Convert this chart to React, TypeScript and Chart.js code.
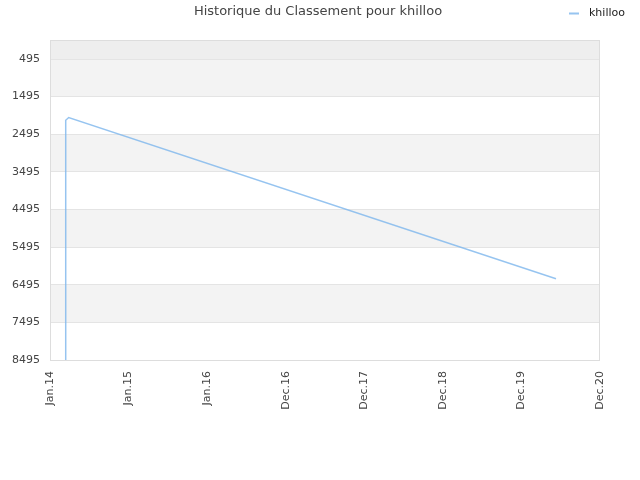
import React, { useEffect, useRef } from "react";
import { Chart, registerables } from "chart.js";

Chart.register(...registerables);

const title = "Historique du Classement pour khilloo";
const seriesName = "khilloo";
const xTickLabels = ["Jan.14", "Jan.15", "Jan.16", "Dec.16", "Dec.17", "Dec.18", "Dec.19", "Dec.20"];
const yTickValues = [495, 1495, 2495, 3495, 4495, 5495, 6495, 7495, 8495];
// x in years since Jan 2014, y = rank
const seriesX = [0.2, 0.2, 0.238, 6.44];
const seriesY = [8495, 2122, 2050, 6335];

const FONT = "'DejaVu Sans', sans-serif";

export default function App() {
  const ref = useRef<HTMLCanvasElement | null>(null);
  useEffect(() => {
    document.body.style.margin = "0";
    const canvas = ref.current;
    if (!canvas) return;

    const bandsPlugin = {
      id: "bands",
      beforeDraw(chart: any) {
        const { ctx, chartArea } = chart;
        const ys = chart.scales.y;
        ctx.save();
        ctx.fillStyle = "#ffffff";
        ctx.fillRect(0, 0, chart.width, chart.height);
        const first = ys.getPixelForValue(yTickValues[0]);
        ctx.fillStyle = "#eeeeee";
        ctx.fillRect(chartArea.left, chartArea.top, chartArea.right - chartArea.left, first - chartArea.top);
        for (let i = 0; i < yTickValues.length - 1; i++) {
          if (i % 2 === 0) {
            const a = ys.getPixelForValue(yTickValues[i]);
            const b = ys.getPixelForValue(yTickValues[i + 1]);
            ctx.fillStyle = "#f3f3f3";
            ctx.fillRect(chartArea.left, a, chartArea.right - chartArea.left, b - a);
          }
        }
        ctx.restore();
      },
      afterDraw(chart: any) {
        const { ctx, chartArea } = chart;
        ctx.save();
        ctx.strokeStyle = "#dddddd";
        ctx.lineWidth = 1;
        ctx.strokeRect(
          Math.round(chartArea.left) + 0.5,
          Math.round(chartArea.top) + 0.5,
          Math.round(chartArea.right - chartArea.left) - 1,
          Math.round(chartArea.bottom - chartArea.top)
        );
        ctx.fillStyle = "#444444";
        ctx.font = "13px " + FONT;
        ctx.textAlign = "center";
        ctx.textBaseline = "middle";
        ctx.fillText(title, 318, 12);
        ctx.strokeStyle = "rgba(124,181,236,0.8)";
        ctx.lineWidth = 2;
        ctx.beginPath();
        ctx.moveTo(569, 13.5);
        ctx.lineTo(579, 13.5);
        ctx.stroke();
        ctx.fillStyle = "#222222";
        ctx.font = "11px " + FONT;
        ctx.textAlign = "left";
        ctx.fillText(seriesName, 589, 13);
        ctx.restore();
      },
    };

    const chart = new Chart(canvas, {
      type: "line",
      data: {
        datasets: [
          {
            label: seriesName,
            data: seriesX.map((x, i) => ({ x, y: seriesY[i] })),
            borderColor: "rgba(124,181,236,0.8)",
            borderWidth: 1.5,
            pointRadius: 0,
            tension: 0,
            fill: false,
          },
        ],
      },
      options: {
        responsive: false,
        animation: false,
        layout: { padding: { top: 40, right: 40, left: 0, bottom: 0 } },
        plugins: {
          legend: { display: false },
          title: { display: false },
          tooltip: { enabled: false },
        },
        scales: {
          x: {
            type: "linear",
            min: 0,
            max: 7,
            afterBuildTicks: (s: any) => {
              s.ticks = xTickLabels.map((_, i) => ({ value: i }));
            },
            afterFit: (s: any) => {
              s.height = 120;
            },
            grid: { display: false, drawTicks: false },
            border: { display: false },
            ticks: {
              minRotation: 90,
              maxRotation: 90,
              autoSkip: false,
              padding: 11,
              color: "#444444",
              font: { family: FONT, size: 11 },
              callback: (v: any) => xTickLabels[Math.round(Number(v))] ?? "",
            },
          },
          y: {
            type: "linear",
            reverse: true,
            min: -10,
            max: 8495,
            afterBuildTicks: (s: any) => {
              s.ticks = yTickValues.map((v) => ({ value: v }));
            },
            afterFit: (s: any) => {
              s.width = 50;
            },
            grid: { color: "#e4e4e4", drawTicks: false },
            border: { display: false },
            ticks: {
              padding: 10,
              autoSkip: false,
              color: "#444444",
              font: { family: FONT, size: 11 },
              callback: (v: any) => String(v),
            },
          },
        },
      },
      plugins: [bandsPlugin],
    } as any);
    return () => chart.destroy();
  }, []);
  return <canvas ref={ref} width={640} height={480} style={{ display: "block" }} />;
}
